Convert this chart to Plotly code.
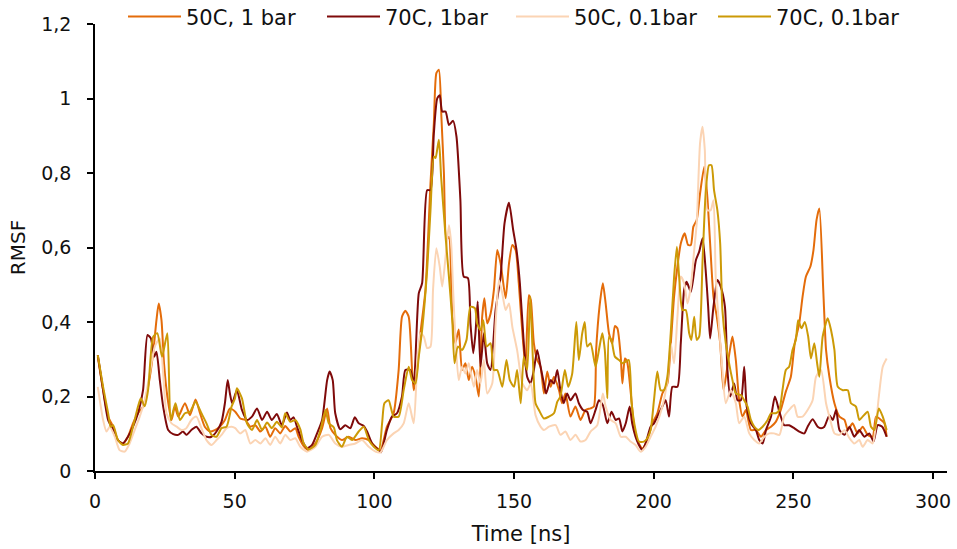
import plotly.graph_objects as go

# ---- data (time in ns, RMSF) ----
t_50c_1bar = [1, 2.9, 4.7, 6.5, 8.2, 10, 11.8, 13.6, 15.4, 17.2,
 19, 20.8, 22, 22.8, 23.8, 24.7, 25.9, 27.4, 28.6, 29.8,
 32.2, 34, 36, 37.6, 39.3, 41.1, 42.9, 44.7, 46.5, 48.3,
 50.2, 52, 53.8, 55.6, 57.4, 59.2, 61, 62.7, 64.5, 66.3,
 68.1, 69.9, 71.7, 72.9, 74.7, 76.5, 78.9, 81.3, 83.1, 84.3,
 86, 88.4, 90.8, 93.2, 95.6, 98, 100.4, 102.2, 104.5, 106.9,
 108.7, 109.9, 111.1, 112.3, 113.5, 114.1, 115.3, 116.5, 118.3, 120.1,
 121.3, 122.2, 123.1, 124, 124.9, 125.8, 126.7, 127.9, 129, 130.2,
 131.4, 132.6, 133.8, 135, 136.2, 137.4, 138.6, 139.4, 140.4, 141.6,
 142.8, 144, 145.2, 147, 148.2, 149.4, 150.6, 151.7, 153, 154.1,
 155.3, 156, 157.1, 158.3, 159.5, 160.7, 161.9, 163.1, 164.3, 166.1,
 167.2, 168.4, 170.2, 172, 173.8, 175.6, 177.4, 178.6, 179.4, 180.6,
 181.8, 182.8, 184, 185.2, 186.1, 187, 188.2, 188.8, 189.7, 190.5,
 191.7, 193, 194.1, 195.9, 197.7, 199.5, 201.3, 203.1, 204.9, 206.1,
 207.3, 208.5, 209.7, 211.1, 212.3, 213.3, 214.2, 215.4, 216.6, 218.1,
 219.2, 220.2, 221.4, 222.6, 223.8, 225, 226.2, 227.4, 228.2, 229.4,
 230.6, 231.8, 233, 234.8, 236.6, 238.4, 240.2, 242, 243.7, 245.5,
 247.3, 249.1, 250.5, 252.1, 253.3, 254.5, 256.1, 257.2, 258.3, 259.3,
 260.7, 261.7, 262.9, 264.7, 266.5, 268.3, 269.5, 271.2, 273, 274.8,
 276.6, 278.4, 279.6, 281.4, 282.6, 283.4]
v_50c_1bar = [0.307, 0.217, 0.146, 0.119, 0.083, 0.074, 0.092, 0.128, 0.155, 0.173,
 0.226, 0.316, 0.405, 0.45, 0.405, 0.289, 0.2, 0.137, 0.173, 0.146,
 0.182, 0.15, 0.192, 0.155, 0.119, 0.106, 0.11, 0.119, 0.137, 0.168,
 0.159, 0.141, 0.137, 0.119, 0.123, 0.106, 0.119, 0.092, 0.115, 0.101,
 0.121, 0.106, 0.115, 0.092, 0.067, 0.056, 0.074, 0.115, 0.168, 0.115,
 0.097, 0.083, 0.092, 0.083, 0.088, 0.083, 0.065, 0.056, 0.119, 0.155,
 0.271, 0.414, 0.43, 0.414, 0.271, 0.217, 0.271, 0.37, 0.486, 0.772,
 0.933, 1.068, 1.077, 0.951, 0.8, 0.62, 0.629, 0.414, 0.343, 0.38,
 0.271, 0.289, 0.244, 0.28, 0.253, 0.2, 0.414, 0.464, 0.396, 0.422,
 0.486, 0.593, 0.557, 0.464, 0.557, 0.607, 0.593, 0.504, 0.37, 0.28,
 0.472, 0.46, 0.343, 0.298, 0.28, 0.208, 0.267, 0.226, 0.253, 0.217,
 0.182, 0.208, 0.146, 0.173, 0.137, 0.164, 0.168, 0.173, 0.325, 0.441,
 0.504, 0.45, 0.37, 0.343, 0.389, 0.383, 0.307, 0.235, 0.302, 0.293,
 0.217, 0.119, 0.083, 0.061, 0.083, 0.128, 0.155, 0.208, 0.235, 0.34,
 0.468, 0.549, 0.611, 0.638, 0.607, 0.607, 0.656, 0.674, 0.745, 0.817,
 0.736, 0.611, 0.468, 0.414, 0.343, 0.217, 0.271, 0.33, 0.361, 0.298,
 0.19, 0.146, 0.164, 0.11, 0.11, 0.092, 0.11, 0.119, 0.132, 0.164,
 0.213, 0.253, 0.343, 0.396, 0.468, 0.522, 0.549, 0.593, 0.674, 0.705,
 0.486, 0.325, 0.253, 0.182, 0.146, 0.137, 0.11, 0.128, 0.101, 0.119,
 0.097, 0.092, 0.146, 0.137, 0.128, 0.092]

t_70c_1bar = [1, 2.9, 4.7, 6.5, 8.2, 10, 11.8, 13.6, 15.4, 17.2,
 18.8, 20, 21.2, 22, 23.2, 24.4, 26.2, 28, 29.8, 31.5,
 32.7, 34.5, 36.3, 38.1, 39.9, 41.7, 43.5, 45.3, 46.5, 47.5,
 48.3, 49.1, 50.8, 52.6, 54.4, 56.2, 58, 59.8, 61.6, 63.3,
 65.1, 66.9, 68.7, 69.9, 71.1, 72.3, 74.1, 75.9, 77.7, 79.5,
 81.3, 83.1, 84, 85.1, 86, 87.8, 89.6, 91.4, 93, 94.4,
 96.2, 97.4, 99.2, 101.6, 102.4, 104.5, 106.3, 108.1, 109.9, 111.1,
 112.9, 114.1, 115.9, 117.1, 118.9, 120.1, 121.3, 122.5, 123.4, 124.3,
 125.5, 126.7, 128.2, 129.4, 130.8, 132, 133.5, 134.4, 135.4, 136.2,
 137, 138, 139.2, 140.4, 141.6, 143.4, 145.2, 146.6, 148.2, 149.7,
 150.9, 152.1, 153.5, 154.7, 155.9, 157.1, 158.3, 159.5, 160.7, 161.5,
 163.1, 164.3, 165.5, 166.6, 167.8, 169, 170.2, 172, 173.2, 174.7,
 176.2, 177.4, 179.2, 180.4, 181.8, 183.4, 184.9, 186.4, 187.6, 188.8,
 190, 191.4, 192.3, 193.5, 194.7, 195.9, 197.1, 198.9, 200.1, 201.9,
 203.1, 204.3, 205.5, 206.7, 208.5, 209.7, 210.9, 211.8, 213.3, 215.1,
 216.3, 217.5, 218.6, 219.5, 220.2, 221.4, 222.8, 224, 225.5, 226.4,
 227.4, 228.8, 230, 231.2, 232.4, 233.3, 234.8, 236.6, 237.8, 239,
 240.2, 242, 243.4, 245, 246.7, 248.5, 250.3, 252.1, 253.9, 255.1,
 256.9, 258.7, 259.9, 261.1, 262.9, 264.1, 265.3, 266.5, 268.3, 270.1,
 271.8, 273.6, 275.4, 277.2, 278.7, 280.2, 281.8, 283.4]
v_70c_1bar = [0.311, 0.217, 0.137, 0.11, 0.083, 0.074, 0.092, 0.119, 0.155, 0.217,
 0.365, 0.356, 0.307, 0.32, 0.244, 0.173, 0.11, 0.099, 0.097, 0.106,
 0.097, 0.11, 0.119, 0.101, 0.092, 0.092, 0.106, 0.132, 0.182, 0.244,
 0.208, 0.182, 0.217, 0.164, 0.137, 0.146, 0.168, 0.137, 0.159, 0.137,
 0.153, 0.123, 0.157, 0.137, 0.144, 0.119, 0.083, 0.061, 0.07, 0.101,
 0.137, 0.244, 0.267, 0.244, 0.155, 0.112, 0.123, 0.115, 0.144, 0.128,
 0.121, 0.106, 0.074, 0.056, 0.05, 0.11, 0.146, 0.155, 0.2, 0.271,
 0.271, 0.235, 0.477, 0.504, 0.754, 0.754, 0.906, 1.0, 1.009, 0.965,
 0.965, 0.929, 0.94, 0.898, 0.728, 0.522, 0.518, 0.396, 0.316, 0.37,
 0.455, 0.28, 0.37, 0.289, 0.271, 0.432, 0.522, 0.665, 0.72, 0.647,
 0.593, 0.504, 0.343, 0.253, 0.235, 0.271, 0.325, 0.28, 0.235, 0.208,
 0.244, 0.235, 0.271, 0.217, 0.182, 0.208, 0.19, 0.208, 0.182, 0.164,
 0.159, 0.128, 0.164, 0.19, 0.177, 0.128, 0.159, 0.137, 0.141, 0.106,
 0.128, 0.173, 0.128, 0.092, 0.07, 0.056, 0.074, 0.119, 0.128, 0.155,
 0.173, 0.19, 0.146, 0.226, 0.226, 0.343, 0.486, 0.508, 0.481, 0.566,
 0.589, 0.625, 0.54, 0.441, 0.356, 0.441, 0.513, 0.495, 0.441, 0.271,
 0.2, 0.235, 0.19, 0.19, 0.28, 0.173, 0.128, 0.11, 0.083, 0.074,
 0.11, 0.146, 0.2, 0.159, 0.123, 0.123, 0.115, 0.106, 0.101, 0.119,
 0.139, 0.119, 0.115, 0.119, 0.15, 0.137, 0.164, 0.11, 0.097, 0.119,
 0.092, 0.11, 0.092, 0.101, 0.079, 0.123, 0.119, 0.092]

t_50c_01bar = [1, 2.9, 4.1, 5.3, 7.1, 8.8, 10.6, 12.4, 14.2, 16,
 17.8, 19.6, 21.4, 23.2, 24.4, 25.6, 27.4, 29.2, 31, 32.7,
 34.5, 36.3, 38.1, 39.9, 41.7, 43.5, 45.3, 47.1, 48.9, 50.2,
 52, 53.8, 55.6, 57.4, 59.2, 61, 62.7, 64.5, 66.3, 68.1,
 69.9, 71.7, 73.5, 75.9, 78.9, 81.3, 83.7, 86, 88.4, 90.8,
 93.2, 95.6, 98, 100.4, 102.2, 104.5, 106.9, 108.7, 110.5, 112.3,
 114.1, 115.3, 116.5, 117.7, 118.9, 120.1, 121, 122.2, 123.4, 124.3,
 125.5, 126.7, 127.5, 128.2, 129, 130.2, 131.4, 132.6, 133.8, 135.6,
 136.8, 138, 139.2, 140.4, 142.2, 143.4, 144.6, 145.8, 147, 148.2,
 149.4, 151.1, 153, 154.7, 156, 157.7, 159.5, 160.7, 162.5, 164.9,
 166.6, 168.4, 170.2, 172, 173.8, 175.6, 177.4, 179.8, 181.8, 182.8,
 184.6, 186.4, 188.2, 190, 191.7, 193.5, 195.3, 197.1, 198.9, 200.7,
 203.1, 204.9, 206.1, 207.3, 208.5, 209.7, 210.9, 212.1, 213.3, 214.5,
 215.4, 216.6, 217.5, 218.3, 219.2, 220.4, 221.4, 222.2, 223.4, 224.6,
 225.8, 227.6, 229.4, 230.6, 232.4, 234.2, 236, 237.8, 239.6, 241.4,
 243.1, 245, 246.7, 248.5, 250.3, 251.5, 253.3, 255.1, 256.9, 258.1,
 259.9, 261.7, 262.9, 264.7, 266.5, 268.3, 270.1, 271.8, 273.6, 274.8,
 276.6, 278.4, 279.6, 280.6, 282, 283.4]
v_50c_01bar = [0.226, 0.137, 0.106, 0.119, 0.092, 0.056, 0.052, 0.074, 0.11, 0.146,
 0.19, 0.262, 0.334, 0.356, 0.262, 0.155, 0.128, 0.119, 0.11, 0.115,
 0.137, 0.146, 0.115, 0.083, 0.07, 0.083, 0.097, 0.115, 0.119, 0.115,
 0.101, 0.11, 0.074, 0.083, 0.074, 0.088, 0.07, 0.092, 0.074, 0.097,
 0.083, 0.088, 0.065, 0.052, 0.065, 0.092, 0.097, 0.074, 0.065, 0.07,
 0.074, 0.083, 0.065, 0.052, 0.05, 0.083, 0.101, 0.11, 0.128, 0.182,
 0.128, 0.28, 0.37, 0.361, 0.33, 0.334, 0.486, 0.598, 0.549, 0.495,
 0.575, 0.66, 0.611, 0.486, 0.36, 0.244, 0.28, 0.262, 0.289, 0.226,
 0.271, 0.235, 0.298, 0.208, 0.235, 0.396, 0.513, 0.477, 0.432, 0.45,
 0.387, 0.325, 0.235, 0.217, 0.235, 0.15, 0.119, 0.11, 0.119, 0.123,
 0.097, 0.106, 0.083, 0.097, 0.079, 0.083, 0.106, 0.123, 0.208, 0.173,
 0.137, 0.128, 0.092, 0.092, 0.079, 0.07, 0.052, 0.065, 0.092, 0.119,
 0.173, 0.244, 0.343, 0.289, 0.414, 0.522, 0.504, 0.45, 0.495, 0.593,
 0.665, 0.88, 0.924, 0.862, 0.7, 0.7, 0.727, 0.522, 0.387, 0.271,
 0.182, 0.217, 0.182, 0.128, 0.146, 0.101, 0.083, 0.074, 0.092, 0.101,
 0.101, 0.097, 0.146, 0.164, 0.177, 0.146, 0.146, 0.164, 0.19, 0.253,
 0.271, 0.182, 0.146, 0.101, 0.097, 0.11, 0.088, 0.074, 0.083, 0.065,
 0.083, 0.074, 0.128, 0.2, 0.28, 0.302]

t_70c_01bar = [1, 2.9, 4.7, 5.6, 6.5, 8.2, 10, 11.8, 13.6, 15.4,
 16.4, 17.8, 19, 20.8, 22.3, 24, 25.9, 27.1, 28.8, 30.4,
 32.2, 34, 36, 38.1, 39.9, 41.7, 43.5, 45.3, 47.1, 48.9,
 50.1, 50.8, 52.6, 54.4, 56.2, 58, 59.8, 61.6, 63.3, 65.1,
 66.9, 68.1, 69.9, 71.7, 73.5, 74.7, 76.5, 78.9, 80.7, 82.5,
 83.7, 85.5, 86.6, 88.4, 90.2, 92, 94.4, 96.2, 98, 99.8,
 101.6, 102.8, 103.6, 105.1, 106.9, 108.7, 110.5, 112.3, 113.5, 114.7,
 115.9, 117.1, 118.9, 120.1, 121.3, 121.9, 123.1, 123.9, 125.5, 126.7,
 127.9, 128.7, 129.9, 131.4, 133, 134.4, 136, 136.8, 138, 139,
 140.2, 141.6, 142.8, 144, 145.8, 147.3, 148.5, 150, 151.1, 152.4,
 153.5, 154.7, 155.8, 157.7, 158.9, 160.7, 162.5, 164.3, 165.5, 166.6,
 168.2, 169.4, 170.8, 172.3, 173.2, 174.4, 175.3, 176.2, 177.4, 179.2,
 180.4, 181.6, 182.5, 183.4, 184, 184.9, 186.1, 187.6, 188.8, 190,
 191.1, 192.1, 193.5, 194.7, 196.5, 197.7, 198.9, 200.1, 201.3, 202.5,
 203.7, 204.9, 206.1, 207.3, 208.3, 209.1, 210.3, 211.5, 212.7, 213.5,
 214.5, 215.4, 216.3, 217.5, 218.6, 219.8, 220.7, 221.6, 222.8, 223.8,
 224.6, 225.8, 227, 228.2, 229.4, 231.2, 232.4, 233.6, 234.8, 236,
 237.4, 239, 240.8, 242, 243.7, 245, 246.1, 247.3, 248.5, 249.7,
 250.9, 251.7, 252.9, 254.1, 255.3, 256.3, 257.5, 258.5, 259.3, 260.5,
 262.3, 263.5, 264.7, 265.9, 267.7, 269.5, 270.6, 272.4, 273.6, 274.8,
 276.6, 277.8, 279, 280.6, 282, 283.4]
v_70c_01bar = [0.311, 0.226, 0.155, 0.119, 0.123, 0.083, 0.07, 0.074, 0.119, 0.173,
 0.195, 0.174, 0.217, 0.36, 0.37, 0.307, 0.37, 0.137, 0.182, 0.137,
 0.155, 0.159, 0.186, 0.155, 0.128, 0.097, 0.092, 0.115, 0.119, 0.173,
 0.195, 0.222, 0.195, 0.128, 0.11, 0.137, 0.11, 0.13, 0.115, 0.132,
 0.117, 0.155, 0.132, 0.137, 0.112, 0.074, 0.058, 0.07, 0.11, 0.164,
 0.128, 0.117, 0.083, 0.065, 0.092, 0.083, 0.106, 0.119, 0.083, 0.065,
 0.056, 0.13, 0.182, 0.19, 0.146, 0.146, 0.217, 0.28, 0.244, 0.235,
 0.307, 0.378, 0.54, 0.7, 0.844, 0.84, 0.889, 0.79, 0.629, 0.522,
 0.405, 0.289, 0.334, 0.325, 0.352, 0.441, 0.437, 0.396, 0.378, 0.405,
 0.334, 0.343, 0.271, 0.271, 0.226, 0.298, 0.244, 0.226, 0.271, 0.182,
 0.307, 0.271, 0.468, 0.182, 0.164, 0.141, 0.146, 0.155, 0.186, 0.2,
 0.271, 0.226, 0.26, 0.4, 0.298, 0.369, 0.4, 0.334, 0.343, 0.28,
 0.325, 0.37, 0.325, 0.195, 0.36, 0.351, 0.307, 0.298, 0.289, 0.294,
 0.298, 0.182, 0.11, 0.079, 0.079, 0.088, 0.11, 0.19, 0.267, 0.217,
 0.217, 0.253, 0.37, 0.52, 0.602, 0.522, 0.432, 0.432, 0.37, 0.352,
 0.414, 0.352, 0.361, 0.566, 0.745, 0.821, 0.821, 0.754, 0.7, 0.611,
 0.432, 0.343, 0.289, 0.244, 0.208, 0.204, 0.19, 0.173, 0.137, 0.119,
 0.11, 0.119, 0.137, 0.155, 0.155, 0.164, 0.217, 0.271, 0.28, 0.325,
 0.352, 0.405, 0.383, 0.4, 0.361, 0.302, 0.343, 0.29, 0.253, 0.361,
 0.41, 0.378, 0.325, 0.226, 0.217, 0.217, 0.182, 0.173, 0.137, 0.146,
 0.159, 0.119, 0.11, 0.168, 0.146, 0.11]

series_names = ["50C, 1 bar", "70C, 1bar", "50C, 0.1bar", "70C, 0.1bar"]
series_colors = ["#E46C0A", "#7F0A0A", "#FBD4B4", "#CC9A06"]
series_t = [t_50c_1bar, t_70c_1bar, t_50c_01bar, t_70c_01bar]
series_v = [v_50c_1bar, v_70c_1bar, v_50c_01bar, v_70c_01bar]
legend_entry_widths = [131, 121, 134, 130]   # px, spacing of legend entries

for tt, vv in zip(series_t, series_v):
    assert len(tt) == len(vv), (len(tt), len(vv))

FONT = "DejaVu Sans, Verdana, sans-serif"
TXT = "#111111"

fig = go.Figure()
for name, color, tt, vv, lw in zip(series_names, series_colors, series_t, series_v,
                                   legend_entry_widths):
    fig.add_trace(go.Scatter(
        x=tt, y=vv, name=name, mode="lines", legendwidth=lw,
        line=dict(color=color, width=2, shape="spline", smoothing=0.6),
    ))

fig.update_layout(
    width=957, height=549,
    margin=dict(l=95, r=10, t=24, b=78, autoexpand=False),
    paper_bgcolor="white", plot_bgcolor="white",
    separators=", ",
    font=dict(family=FONT, size=19, color=TXT),
    showlegend=True,
    legend=dict(orientation="h", x=(123 - 95) / 852, xanchor="left", y=1.016, yanchor="middle",
                font=dict(family=FONT, size=21, color=TXT),
                bgcolor="rgba(0,0,0,0)", borderwidth=0, itemwidth=53, tracegroupgap=0),
    xaxis=dict(range=[0, 305], tickvals=[0, 50, 100, 150, 200, 250, 300],
               showgrid=False, zeroline=False, showline=True, linecolor="black", linewidth=1.5,
               ticks="outside", ticklen=6, tickcolor="black", tickwidth=1.5,
               ticklabelstandoff=6,
               tickfont=dict(family=FONT, size=19, color=TXT),
               title=dict(text="Time [ns]", font=dict(family=FONT, size=21, color=TXT), standoff=16)),
    yaxis=dict(range=[0, 1.2], tickvals=[0, 0.2, 0.4, 0.6, 0.8, 1.0, 1.2],
               showgrid=False, zeroline=False, showline=True, linecolor="black", linewidth=1.5,
               ticks="outside", ticklen=6, tickcolor="black", tickwidth=1.5,
               ticklabelstandoff=12,
               tickfont=dict(family=FONT, size=19, color=TXT),
               title=dict(text="RMSF", font=dict(family=FONT, size=20, color=TXT), standoff=10)),
)

fig.write_html("out.html")
